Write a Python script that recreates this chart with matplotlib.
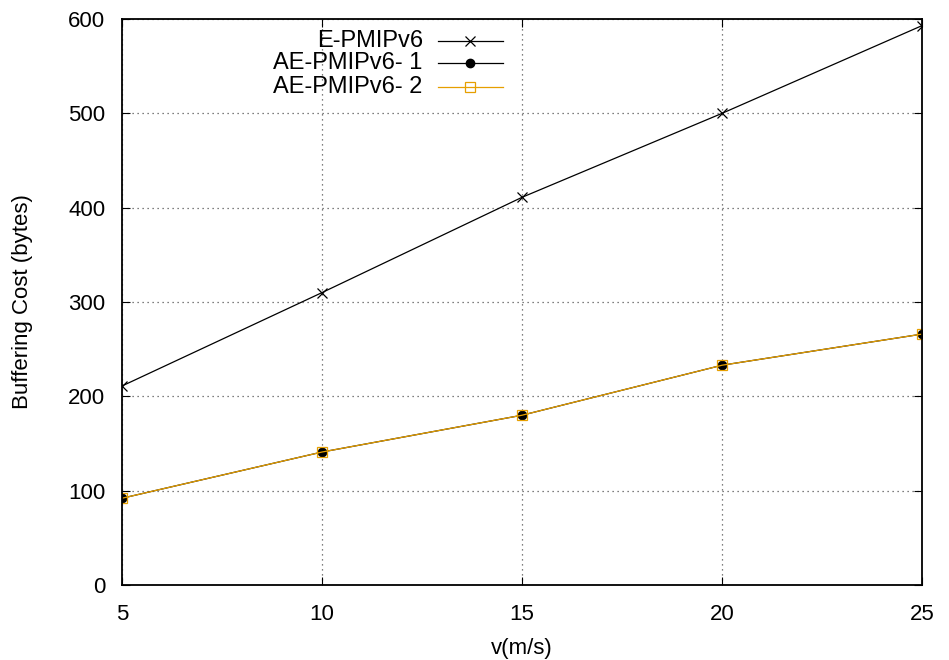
import matplotlib
matplotlib.use("Agg")
from matplotlib import pyplot as plt

plt.rcParams['font.family'] = ['Liberation Sans', 'DejaVu Sans']

speed = [5, 10, 15, 20, 25]
e_pmip = [211, 310, 411, 500, 593]
ae_pmip_1 = [92, 141, 180, 233, 266]
ae_pmip_2 = [92, 141, 180, 233, 266]

fig = plt.figure(figsize=(9.49, 6.60), dpi=100)
ax = fig.add_axes([0.1286, 0.1136, 0.843, 0.8576])

styles = [
    ('E-PMIPv6', e_pmip, dict(color='black', marker='x', ms=7, mew=0.9)),
    ('AE-PMIPv6- 1', ae_pmip_1, dict(color='black', marker='o', ms=6)),
    ('AE-PMIPv6- 2', ae_pmip_2, dict(color='#E69F00', marker='s', ms=7, mfc='none', mew=0.9)),
]
for name, vals, st in styles:
    ax.plot(speed, vals, lw=0.9, **st)

ax.set_xlim(5, 25)
ax.set_ylim(0, 600)
ax.set_xticks([5, 10, 15, 20, 25])
ax.set_yticks(range(0, 601, 100))
ax.grid(True, color='#555555', linestyle=(0, (1, 3)), lw=0.9)
ax.tick_params(direction='in', labelsize=16, length=6, top=True, right=True)
ax.tick_params(axis='y', pad=12)
ax.tick_params(axis='x', pad=14)
for s in ax.spines.values():
    s.set_linewidth(1.3)

ax.set_xlabel('v(m/s)', fontsize=16, labelpad=9)
ax.set_ylabel('Buffering Cost (bytes)', fontsize=16, labelpad=25)

# gnuplot-style key: text right aligned, sample line on the right
key_y = [0.961, 0.922, 0.880]
for (name, vals, st), yk in zip(styles, key_y):
    ax.text(0.376, yk, name, transform=ax.transAxes, ha='right', va='center', fontsize=17)
    ax.plot([0.395, 0.476], [yk, yk], transform=ax.transAxes, lw=0.9, clip_on=False,
            markevery=[], **st)
    ax.plot([0.4355], [yk], transform=ax.transAxes, lw=0, clip_on=False, **st)

fig.savefig('out.png', dpi=100)
